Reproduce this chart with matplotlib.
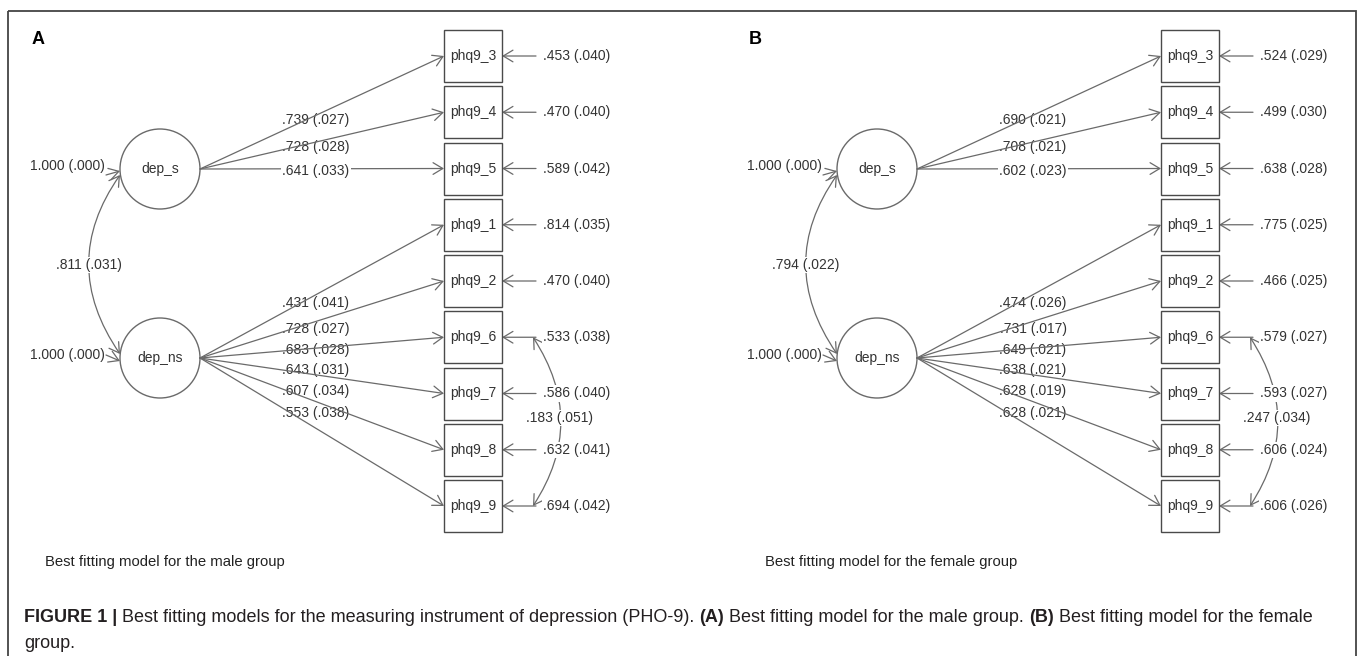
import matplotlib
matplotlib.use("Agg")
import matplotlib.pyplot as plt
from matplotlib.patches import Circle, Rectangle, FancyArrowPatch
from matplotlib.path import Path

# ---------------- data ----------------
indicators = ["phq9_3", "phq9_4", "phq9_5", "phq9_1", "phq9_2",
              "phq9_6", "phq9_7", "phq9_8", "phq9_9"]
factors = ["dep_s", "dep_ns"]
factor_of = [0, 0, 0, 1, 1, 1, 1, 1, 1]
error_cov_pair = ("phq9_6", "phq9_9")

male_loadings = [".739 (.027)", ".728 (.028)", ".641 (.033)", ".431 (.041)", ".728 (.027)",
                 ".683 (.028)", ".643 (.031)", ".607 (.034)", ".553 (.038)"]
male_residuals = [".453 (.040)", ".470 (.040)", ".589 (.042)", ".814 (.035)", ".470 (.040)",
                  ".533 (.038)", ".586 (.040)", ".632 (.041)", ".694 (.042)"]
male_factor_var = ["1.000 (.000)", "1.000 (.000)"]
male_factor_cov = ".811 (.031)"
male_error_cov = ".183 (.051)"

female_loadings = [".690 (.021)", ".708 (.021)", ".602 (.023)", ".474 (.026)", ".731 (.017)",
                   ".649 (.021)", ".638 (.021)", ".628 (.019)", ".628 (.021)"]
female_residuals = [".524 (.029)", ".499 (.030)", ".638 (.028)", ".775 (.025)", ".466 (.025)",
                    ".579 (.027)", ".593 (.027)", ".606 (.024)", ".606 (.026)"]
female_factor_var = ["1.000 (.000)", "1.000 (.000)"]
female_factor_cov = ".794 (.022)"
female_error_cov = ".247 (.034)"

panel_letters = ["A", "B"]
panel_titles = ["Best fitting model for the male group",
                "Best fitting model for the female group"]

caption_line1 = [("FIGURE 1 |", "bold"),
                 (" Best fitting models for the measuring instrument of depression (PHO-9). ", "normal"),
                 ("(A)", "bold"),
                 (" Best fitting model for the male group. ", "normal"),
                 ("(B)", "bold"),
                 (" Best fitting model for the female", "normal")]
caption_line2 = "group."

# ---------------- layout (pixels) ----------------
W, H = 1358, 656
PANEL_DX = 717
BOX_X, BOX_W, BOX_H = 444, 58, 52
BOX_Y0, BOX_STEP = 56, 56.25
FAC_X, FAC_Y, FAC_R = 160, [169, 358], 40
LOAD_X = 316
LOAD_Y = [120, 147, 171, 303, 329, 350, 370, 391, 413]
RES_X0, RES_LAB_X = 536, 543
TITLE_X = [45, 48]

LINE = "#6a6a6a"
TXT = "#333333"
FONT = "Liberation Sans"
HEAD = "->,head_length=0.7,head_width=0.42"
HEAD2 = "<->,head_length=0.7,head_width=0.42"

fig = plt.figure(figsize=(W / 100, H / 100), dpi=100)
ax = fig.add_axes([0, 0, 1, 1])
ax.set_xlim(0, W)
ax.set_ylim(H, 0)
ax.axis("off")

WHITE = dict(boxstyle="square,pad=0.08", fc="white", ec="none")


def label(x, y, s, ha="center", bg=True, z=3):
    ax.text(x, y, s, ha=ha, va="center", fontsize=10, color=TXT, family=FONT,
            bbox=WHITE if bg else None, zorder=z)


def arrow(p0, p1, z=2):
    ax.add_patch(FancyArrowPatch(p0, p1, arrowstyle=HEAD, mutation_scale=10, lw=0.9,
                                 color=LINE, shrinkA=0, shrinkB=0, zorder=z))


def curve(p0, ctrl, p1):
    path = Path([p0, ctrl, p1], [Path.MOVETO, Path.CURVE3, Path.CURVE3])
    ax.add_patch(FancyArrowPatch(path=path, arrowstyle=HEAD2, mutation_scale=10, lw=0.9,
                                 color=LINE, zorder=2))


def draw_panel(dx, letter, title, tx, loadings, residuals, fvar, fcov, ecov):
    ax.text(dx + 32, 40, letter, fontsize=13, fontweight="bold", family=FONT,
            ha="left", va="center", color="black")
    box_y = [BOX_Y0 + BOX_STEP * i for i in range(len(indicators))]

    # latent factors
    for k, name in enumerate(factors):
        ax.add_patch(Circle((dx + FAC_X, FAC_Y[k]), FAC_R, fc="white", ec=LINE, lw=1.0, zorder=3))
        label(dx + FAC_X, FAC_Y[k], name, bg=False, z=4)
        label(dx + 105, FAC_Y[k] - 3, fvar[k], ha="right", bg=False)
    arrow((dx + 106, FAC_Y[0] + 6), (dx + 120, FAC_Y[0] + 2))
    arrow((dx + 106, FAC_Y[1] - 3), (dx + 120, FAC_Y[1] + 3))

    # factor covariance
    curve((dx + 120, FAC_Y[0] + 6), (dx + 58, (FAC_Y[0] + FAC_Y[1]) / 2), (dx + 120, FAC_Y[1] - 4))
    label(dx + 89, 265, fcov)

    # indicators, loadings, residuals
    for i, name in enumerate(indicators):
        y = box_y[i]
        ax.add_patch(Rectangle((dx + BOX_X, y - BOX_H / 2), BOX_W, BOX_H, fc="white",
                               ec="#4a4a4a", lw=1.0, zorder=3))
        label(dx + BOX_X + BOX_W / 2, y, name, bg=False, z=4)
        fy = FAC_Y[factor_of[i]]
        flat = abs(fy - y) < 3
        arrow((dx + FAC_X + FAC_R, fy), (dx + BOX_X, y), z=2 if flat else 4)
        label(dx + LOAD_X, LOAD_Y[i], loadings[i])
        arrow((dx + RES_X0, y), (dx + BOX_X + BOX_W, y))
        label(dx + RES_LAB_X, y, residuals[i], ha="left")

    # correlated errors
    i0, i1 = indicators.index(error_cov_pair[0]), indicators.index(error_cov_pair[1])
    ya, yb = box_y[i0], box_y[i1]
    curve((dx + 533, ya), (dx + 588, (ya + yb) / 2), (dx + 533, yb))
    label(dx + 560, 418, ecov)

    ax.text(tx, 562, title, fontsize=10.7, color="#222222", family=FONT,
            ha="left", va="center")


draw_panel(0, panel_letters[0], panel_titles[0], TITLE_X[0], male_loadings, male_residuals,
           male_factor_var, male_factor_cov, male_error_cov)
draw_panel(PANEL_DX, panel_letters[1], panel_titles[1], PANEL_DX + TITLE_X[1], female_loadings,
           female_residuals, female_factor_var, female_factor_cov, female_error_cov)

# frame around the figure
ax.add_patch(Rectangle((8, 10.5), 1348, 700, fc="none", ec="#444444", lw=1.3, zorder=1))

# caption with mixed bold / regular runs
renderer = fig.canvas.get_renderer()
x = 24
for s, w in caption_line1:
    t = ax.text(x, 617, s, fontsize=13, fontweight=w, family=FONT,
                ha="left", va="center", color="#231f20")
    bb = t.get_window_extent(renderer)
    x += bb.width
ax.text(24, 643, caption_line2, fontsize=13, family=FONT, ha="left", va="center",
        color="#231f20")

fig.savefig("out.png", dpi=100)
